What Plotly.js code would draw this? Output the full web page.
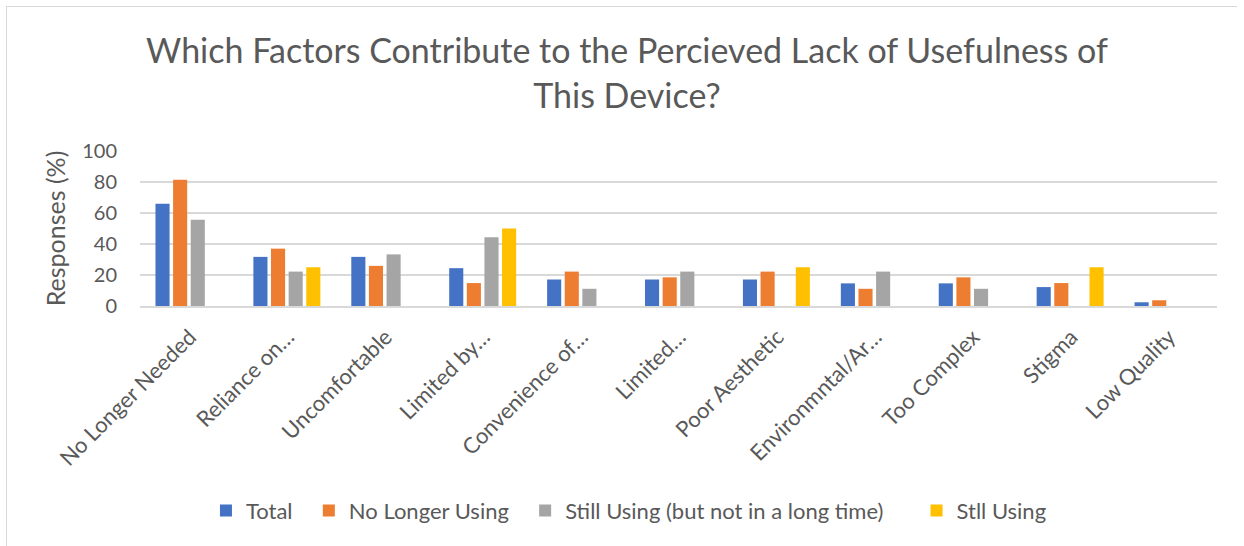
<!DOCTYPE html>
<html>
<head>
<meta charset="utf-8">
<script src="https://cdn.plot.ly/plotly-3.0.1.min.js"></script>
<style>
  html, body { margin: 0; padding: 0; background: #fff; }
  #frame { position: absolute; left: 6px; top: 6px; width: 1230px; height: 560px;
           border-left: 1.5px solid #d9d9d9; border-top: 1.5px solid #d9d9d9; pointer-events: none; }
  #chart { width: 1244px; height: 546px; }
</style>
</head>
<body>
<div id="chart"></div>
<div id="frame"></div>
<script>
// Reasons given for the device not being useful, by respondent group (% of group)
const categories = [
  'No Longer Needed', 'Reliance on…', 'Uncomfortable', 'Limited by…',
  'Convenience of…', 'Limited…', 'Poor Aesthetic', 'Environmntal/Ar…',
  'Too Complex', 'Stigma', 'Low Quality'
];
const total        = [65.9, 31.7, 31.7, 24.4, 17.1, 17.1, 17.1, 14.6, 14.6, 12.2, 2.4];
const noLonger     = [81.5, 37.0, 25.9, 14.8, 22.2, 18.5, 22.2, 11.1, 18.5, 14.8, 3.7];
const stillNotLong = [55.6, 22.2, 33.3, 44.4, 11.1, 22.2, null, 22.2, 11.1, null, null];
const stillUsing   = [null, 25.0, null, 50.0, null, null, 25.0, null, null, 25.0, null];
const yTicks = [0, 20, 40, 60, 80, 100];

const seriesNames = ['Total', 'No Longer Using', 'Still Using (but not in a long time)', 'Stll Using'];
const seriesValues = [total, noLonger, stillNotLong, stillUsing];
const seriesColors = ['#4472C4', '#ED7D31', '#A5A5A5', '#FFC000'];

const textColor = '#595959';
const gridColor = '#d9d9d9';
const fontFamily = 'Lato, "Open Sans", sans-serif';
// extra room after each legend entry (non-breaking spaces)
const legendPad = ['\u00a0\u00a0', '\u00a0\u00a0', '\u00a0\u00a0\u00a0\u00a0\u00a0', ''];

const traces = seriesNames.map((name, i) => ({
  type: 'bar',
  name: name + legendPad[i],
  x: categories,
  y: seriesValues[i],
  marker: { color: seriesColors[i], line: { width: 0 } },
  hoverinfo: 'x+y+name'
}));

const layout = {
  width: 1244,
  height: 546,
  margin: { l: 140, r: 27, t: 151, b: 240 },
  paper_bgcolor: '#fff',
  plot_bgcolor: '#fff',
  font: { family: fontFamily, color: textColor, size: 20 },
  title: {
    text: 'Which Factors Contribute to the Percieved Lack of Usefulness of<br>This Device?',
    font: { family: fontFamily, size: 34, color: textColor },
    x: 0.504, xref: 'container', xanchor: 'center',
    y: 0.884, yref: 'container', yanchor: 'top'
  },
  barmode: 'group',
  bargap: 0.28,
  bargroupgap: 0.2,
  xaxis: {
    type: 'category',
    tickangle: -45,
    showgrid: false,
    showline: true,
    linecolor: gridColor,
    linewidth: 1.5,
    ticks: '',
    tickfont: { size: 22, color: textColor },
    ticklabelshift: 1,
    ticklabelstandoff: 8,
    automargin: false
  },
  yaxis: {
    range: [0, 100],
    tickvals: yTicks,
    ticktext: yTicks.map(String),
    showgrid: true,
    gridcolor: gridColor,
    gridwidth: 1.5,
    zeroline: false,
    showline: false,
    ticks: '',
    ticklen: 0,
    ticklabelstandoff: 22,
    tickfont: { size: 20, color: textColor },
    title: { text: 'Responses (%)', font: { size: 25, color: textColor }, standoff: 9 },
    automargin: false
  },
  showlegend: true,
  legend: {
    orientation: 'h',
    x: 0.454, xanchor: 'center',
    y: -1.32, yanchor: 'middle',
    font: { size: 22, color: textColor },
    itemwidth: 30,
    traceorder: 'normal'
  }
};

Plotly.newPlot('chart', traces, layout, { displayModeBar: false, staticPlot: true });
</script>
</body>
</html>
